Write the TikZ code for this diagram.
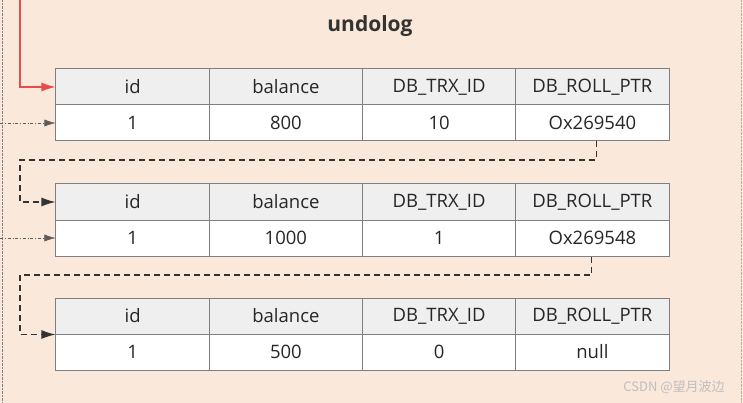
\documentclass[tikz,border=0pt]{standalone}
\usepackage{fontspec}
\setmainfont{Open Sans}
\newfontfamily\cjkfont{Noto Sans CJK SC}
\usetikzlibrary{arrows.meta}
\definecolor{paper}{HTML}{FAE8DA}
\definecolor{headgray}{HTML}{EFEFEF}
\definecolor{cellline}{HTML}{7F7F7F}
\definecolor{linkred}{HTML}{EA4B4B}
\definecolor{linkdark}{HTML}{333333}
\begin{document}
\begin{tikzpicture}[x=1pt, y=-1pt,
		cell/.style = {draw=cellline, line width=1pt, minimum width=153.25pt, minimum height=36pt, inner sep=0pt, font=\fontsize{18.5}{20}\selectfont, text=black!85},
		head/.style = {cell, fill=headgray},
		data/.style = {cell, fill=white},
		tip/.style = {-{Latex[length=14pt, width=9pt]}},
		thintip/.style = {-{Latex[length=11pt, width=7pt]}}]
			
			\fill[paper] (0,0) rectangle (743,403);
			\useasboundingbox (0,0) rectangle (743,403);
			\draw[gray, densely dotted] (2,0) -- (2,403);
			\draw[gray!60, densely dotted] (741,0) -- (741,403);
			
			\node[font=\bfseries\fontsize{21}{24}\selectfont, text=black!80] (title) at (370,26) {undolog};
			
			% first record
			\node[head] (h11) at (132.6,87) {id};
			\node[head] (h12) at (285.9,87) {balance};
			\node[head] (h13) at (439.1,87) {DB\_TRX\_ID};
			\node[head] (h14) at (592.4,87) {DB\_ROLL\_PTR};
			\node[data] (d11) at (132.6,123) {1};
			\node[data] (d12) at (285.9,123) {800};
			\node[data] (d13) at (439.1,123) {10};
			\node[data] (d14) at (592.4,123) {Ox269540};
			
			% second record
			\node[head] (h21) at (132.6,202) {id};
			\node[head] (h22) at (285.9,202) {balance};
			\node[head] (h23) at (439.1,202) {DB\_TRX\_ID};
			\node[head] (h24) at (592.4,202) {DB\_ROLL\_PTR};
			\node[data] (d21) at (132.6,238) {1};
			\node[data] (d22) at (285.9,238) {1000};
			\node[data] (d23) at (439.1,238) {1};
			\node[data] (d24) at (592.4,238) {Ox269548};
			
			% third record
			\node[head] (h31) at (132.6,316) {id};
			\node[head] (h32) at (285.9,316) {balance};
			\node[head] (h33) at (439.1,316) {DB\_TRX\_ID};
			\node[head] (h34) at (592.4,316) {DB\_ROLL\_PTR};
			\node[data] (d31) at (132.6,352) {1};
			\node[data] (d32) at (285.9,352) {500};
			\node[data] (d33) at (439.1,352) {0};
			\node[data] (d34) at (592.4,352) {null};
			
			\node[font=\cjkfont\fontsize{13}{15}\selectfont, text=gray!50] (mark) at (674,387) {CSDN @望月波边};
			
			\coordinate (top) at (20,0);
			\coordinate (in1) at (0,123);
			\coordinate (in2) at (0,238);
			\coordinate (k1) at (20,160);
			\coordinate (k2) at (20,275);
			
			\draw[tip, linkred, line width=1.3pt] (top) |- (h11.west);
			\draw[thintip, linkdark!80, line width=0.5pt, dash dot] (in1) -- (d11.west);
			\draw[thintip, linkdark!80, line width=0.5pt, dash dot] (in2) -- (d21.west);
			\draw[tip, linkdark, line width=1.3pt, dash pattern=on 6pt off 4pt] ([xshift=4pt]d14.south) |- (k1) |- (h21.west);
			\draw[tip, linkdark, line width=1.3pt, dash pattern=on 6pt off 4pt] ([xshift=-1pt]d24.south) |- (k2) |- (h31.south west);
			
		\end{tikzpicture}
\end{document}
